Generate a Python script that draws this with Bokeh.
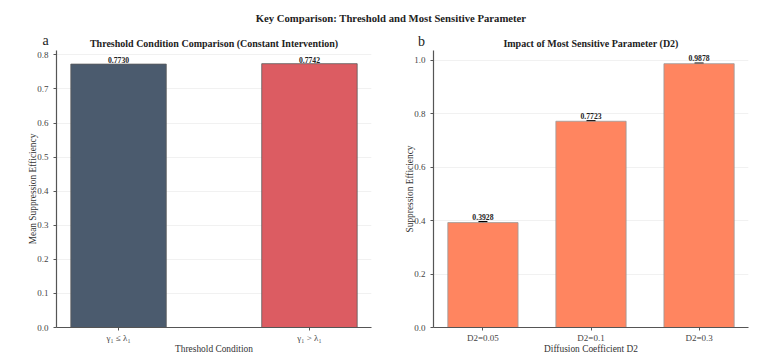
from bokeh.plotting import figure
from bokeh.models import (Range1d, FixedTicker, PrintfTickFormatter, Label,
                          ColumnDataSource, Whisker, LabelSet, TeeHead)
from bokeh.layouts import column, row
from bokeh.embed import file_html
from bokeh.resources import INLINE

FONT = "Liberation Serif"

suptitle = "Key Comparison: Threshold and Most Sensitive Parameter"

title_a = "Threshold Condition Comparison (Constant Intervention)"
cond_labels = ["γ₁ ≤ λ₁", "γ₁ > λ₁"]
cond_values = [0.7730, 0.7742]
cond_colors = ["#4b5b6e", "#dc5c62"]
y_ticks_a = [0.0, 0.1, 0.2, 0.3, 0.4, 0.5, 0.6, 0.7, 0.8]

title_b = "Impact of Most Sensitive Parameter (D2)"
d2_labels = ["D2=0.05", "D2=0.1", "D2=0.3"]
d2_values = [0.3928, 0.7723, 0.9878]
d2_std = [0.003, 0.002, 0.002]
d2_color = "#ff8560"
y_ticks_b = [0.0, 0.2, 0.4, 0.6, 0.8, 1.0]

HEAD_H = 50
FRAME_W = 315
FRAME_H = 277


def style(p, xlabel, ylabel, ticks, xticks, xlabels):
    p.outline_line_color = None
    p.xgrid.visible = False
    p.ygrid.grid_line_color = "#eeeeee"
    p.ygrid.grid_line_width = 0.8
    p.yaxis.ticker = FixedTicker(ticks=ticks)
    p.yaxis.formatter = PrintfTickFormatter(format="%.1f")
    p.xaxis.ticker = FixedTicker(ticks=xticks)
    p.xaxis.major_label_overrides = {int(t): l for t, l in zip(xticks, xlabels)}
    for ax in (p.xaxis, p.yaxis):
        ax.axis_line_color = "#555555"
        ax.axis_line_width = 1.2
        ax.major_tick_line_color = "#555555"
        ax.major_tick_out = 3
        ax.major_tick_in = 0
        ax.minor_tick_line_color = None
        ax.major_label_text_font = FONT
        ax.major_label_text_font_size = "9px"
        ax.major_label_text_color = "#444444"
        ax.axis_label_text_font = FONT
        ax.axis_label_text_font_size = "9.4px"
        ax.axis_label_text_font_style = "normal"
        ax.axis_label_text_color = "#333333"
    p.yaxis.major_label_standoff = 5
    p.yaxis.axis_label_standoff = -4
    p.xaxis.major_label_standoff = 2
    p.xaxis.axis_label_standoff = -2
    p.xaxis.axis_label = xlabel
    p.yaxis.axis_label = ylabel


# ---- header strip with suptitle, panel titles and panel letters
pt = figure(width=755, height=HEAD_H, toolbar_location=None, output_backend="svg",
            x_axis_location=None, y_axis_location=None,
            x_range=Range1d(0, 755), y_range=Range1d(0, HEAD_H),
            min_border=0)
pt.outline_line_color = None
pt.grid.visible = False
head_texts = [
    (390.5, HEAD_H - 17, suptitle, "10.7px", "bold"),
    (213.5, HEAD_H - 43, title_a, "10px", "bold"),
    (590.5, HEAD_H - 43, title_b, "10px", "bold"),
    (45, HEAD_H - 40, "a", "14px", "normal"),
    (421, HEAD_H - 41, "b", "14px", "normal"),
]
for x, y, t, fs, st in head_texts:
    pt.add_layout(Label(x=x, y=y, text=t, text_font=FONT, text_font_size=fs,
                        text_font_style=st, text_align="center",
                        text_baseline="middle", text_color="#222222"))

# ---- panel a
xa = list(range(len(cond_values)))
src_a = ColumnDataSource(dict(x=xa, top=cond_values, color=cond_colors,
                              txt=["%.4f" % v for v in cond_values]))
pa = figure(frame_width=FRAME_W, frame_height=FRAME_H, toolbar_location=None,
            output_backend="svg",
            x_range=Range1d(-0.325, 1.325), y_range=Range1d(0, 0.8129),
            min_border_left=56, min_border_right=14, min_border_top=0,
            min_border_bottom=25)
pa.vbar(x="x", top="top", width=0.5, source=src_a, fill_color="color",
        line_color="#5a5a5a", line_width=0.8)
pa.add_layout(LabelSet(x="x", y="top", text="txt", source=src_a,
                       text_align="center", text_baseline="bottom", y_offset=1,
                       text_font=FONT, text_font_size="7.7px",
                       text_font_style="bold", text_color="#222222"))
style(pa, "Threshold Condition", "Mean Suppression Efficiency", y_ticks_a, xa, cond_labels)

# ---- panel b
xb = list(range(len(d2_values)))
src_b = ColumnDataSource(dict(x=xb, top=d2_values,
                              upper=[v + s for v, s in zip(d2_values, d2_std)],
                              lower=[v - s for v, s in zip(d2_values, d2_std)],
                              txt=["%.4f" % v for v in d2_values]))
pb = figure(frame_width=FRAME_W, frame_height=FRAME_H, toolbar_location=None,
            output_backend="svg",
            x_range=Range1d(-0.4575, 2.4575), y_range=Range1d(0, 1.0372),
            min_border_left=48, min_border_right=7, min_border_top=0,
            min_border_bottom=25)
pb.vbar(x="x", top="top", width=0.65, source=src_b, fill_color=d2_color,
        line_color="#999999", line_width=0.8)
pb.add_layout(Whisker(base="x", upper="upper", lower="lower", source=src_b,
                      line_color="black", line_width=1.2,
                      upper_head=TeeHead(size=9, line_color="black", line_width=1.5),
                      lower_head=TeeHead(size=9, line_color="black", line_width=1.5)))
pb.add_layout(LabelSet(x="x", y="upper", text="txt", source=src_b,
                       text_align="center", text_baseline="bottom", y_offset=2,
                       text_font=FONT, text_font_size="7.7px",
                       text_font_style="bold", text_color="#222222"))
style(pb, "Diffusion Coefficient D2", "Suppression Efficiency", y_ticks_b, xb, d2_labels)

layout = column(pt, row(pa, pb, spacing=0), spacing=0)
open("out.html", "w").write(file_html(layout, INLINE))
